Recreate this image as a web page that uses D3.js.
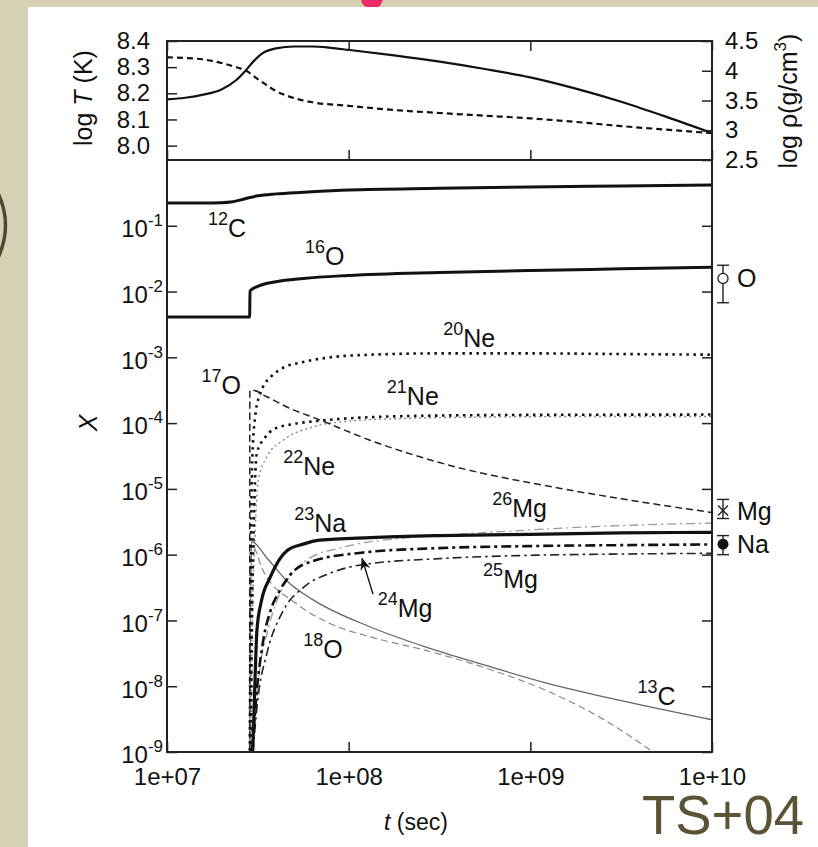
<!DOCTYPE html>
<html>
<head>
<meta charset="utf-8">
<script src="https://cdn.jsdelivr.net/npm/d3@7"></script>
<style>
  body { margin: 0; background: #d5d1b4; }
  svg { display: block; }
  text { font-family: "Liberation Sans", Arial, Helvetica, sans-serif; fill: #111; }
</style>
</head>
<body>
<svg id="chart" width="818" height="847"></svg>
<script>
// ---- data (log10 t, value) ----
const tempCurve = [[7.0,8.177],[7.1,8.183],[7.2,8.195],[7.3,8.215],[7.38,8.25],[7.43,8.285],[7.48,8.325],[7.53,8.355],[7.6,8.372],[7.7,8.379],[7.8,8.379],[7.9,8.374],[8.0,8.366],[8.25,8.345],[8.5,8.321],[8.75,8.293],[9.0,8.261],[9.25,8.218],[9.5,8.168],[9.75,8.11],[10.0,8.048]]
const densCurve = [[7.0,4.225],[7.1,4.215],[7.2,4.19],[7.3,4.13],[7.38,4.06],[7.43,4.01],[7.5,3.86],[7.6,3.66],[7.7,3.54],[7.8,3.47],[8.0,3.41],[8.25,3.34],[8.5,3.29],[8.75,3.245],[9.0,3.2],[9.25,3.14],[9.5,3.07],[9.75,3.01],[10.0,2.95]]

// abundances: [log10 t, log10 X]
const c12 = [[7.0,-0.655],[7.2,-0.655],[7.3,-0.65],[7.35,-0.64],[7.4,-0.61],[7.45,-0.575],[7.5,-0.545],[7.6,-0.515],[7.75,-0.49],[8.0,-0.455],[8.5,-0.43],[9.0,-0.41],[9.5,-0.395],[10.0,-0.38]]
const o16 = [[7.0,-2.385],[7.455,-2.385],[7.457,-1.99],[7.5,-1.92],[7.6,-1.85],[7.75,-1.8],[8.0,-1.755],[8.5,-1.71],[9.0,-1.68],[9.5,-1.655],[10.0,-1.63]]
const ne20 = [[7.455,-9.3],[7.462,-6],[7.47,-4.5],[7.49,-3.8],[7.51,-3.58],[7.528,-3.45],[7.57,-3.3],[7.62,-3.19],[7.75,-3.07],[7.9,-3.0],[8.12,-2.96],[8.5,-2.94],[9.0,-2.94],[9.5,-2.95],[10.0,-2.96]]
const o17 = [[7.455,-9.3],[7.456,-3.5],[7.47,-3.5],[7.55,-3.6],[7.66,-3.755],[7.84,-3.95],[8.117,-4.26],[8.5,-4.6],[9.16,-4.99],[9.5,-5.15],[10.0,-5.36]]
const ne21 = [[7.46,-9.3],[7.468,-7],[7.478,-5.5],[7.495,-4.45],[7.54,-4.22],[7.583,-4.1],[7.68,-4.02],[7.787,-3.98],[8.117,-3.91],[8.5,-3.885],[9.0,-3.875],[10.0,-3.87]]
const ne22 = [[7.462,-9.3],[7.47,-7],[7.485,-5.7],[7.5,-4.91],[7.55,-4.51],[7.64,-4.26],[7.8,-4.06],[8.0,-3.97],[8.3,-3.93],[8.7,-3.91],[9.3,-3.9],[10.0,-3.9]]
const na23 = [[7.468,-9.3],[7.48,-8.3],[7.495,-7.15],[7.52,-6.7],[7.567,-6.35],[7.66,-5.94],[7.75,-5.84],[7.84,-5.78],[8.12,-5.74],[8.5,-5.71],[9.0,-5.69],[9.5,-5.67],[10.0,-5.66]]
const mg24 = [[7.462,-9.3],[7.49,-8.2],[7.53,-7.3],[7.57,-6.85],[7.62,-6.55],[7.68,-6.3],[7.8,-6.1],[8.07,-5.97],[8.5,-5.9],[9.0,-5.87],[9.5,-5.855],[10.0,-5.845]]
const mg25 = [[7.465,-9.3],[7.5,-8.2],[7.55,-7.5],[7.64,-6.85],[7.75,-6.5],[7.9,-6.28],[8.08,-6.15],[8.5,-6.06],[9.0,-6.01],[9.5,-5.99],[10.0,-5.98]]
const mg26 = [[7.465,-9.3],[7.5,-8.0],[7.56,-7.1],[7.62,-6.6],[7.7,-6.25],[7.8,-6.03],[7.95,-5.9],[8.06,-5.83],[8.3,-5.75],[8.6,-5.69],[8.9,-5.64],[9.3,-5.58],[9.7,-5.54],[10.0,-5.52]]
const o18 = [[7.455,-9.3],[7.465,-5.85],[7.53,-6.25],[7.71,-6.74],[7.9,-7.05],[8.12,-7.25],[8.43,-7.46],[8.75,-7.72],[9.1,-8.08],[9.4,-8.5],[9.675,-9.0],[9.8,-9.25]]
const c13 = [[7.455,-9.3],[7.465,-5.8],[7.55,-6.05],[7.66,-6.4],[7.8,-6.68],[8.12,-7.1],[8.43,-7.41],[8.75,-7.68],[9.1,-7.96],[9.5,-8.22],[10.0,-8.51]]

// isotope labels: [mass, symbol, log t, log X] (baseline-left)
const isoLabels = [['12','C',7.226,-1.17],['16','O',7.76,-1.6],['20','Ne',8.52,-2.84],['17','O',7.19,-3.56],['21','Ne',8.21,-3.72],['22','Ne',7.64,-4.79],['23','Na',7.70,-5.66],['26','Mg',8.79,-5.43],['25','Mg',8.74,-6.51],['24','Mg',8.16,-6.95],['18','O',7.75,-7.57],['13','C',9.59,-8.29]]
const mg24Arrow = [[8.134,-6.6],[8.074,-6.06]]

// observed values at the right edge (log X)
const obsNames = ['O','Mg','Na']
const obsValue = [-1.80,-5.33,-5.84]
const obsLow = [-2.17,-5.45,-6.0]
const obsHigh = [-1.60,-5.16,-5.71]

// ticks
const xTicks = [1e7, 1e8, 1e9, 1e10]
const xTickLabels = ['1e+07', '1e+08', '1e+09', '1e+10']
const tempTicks = [8.0, 8.1, 8.2, 8.3, 8.4]
const densTicks = [2.5, 3, 3.5, 4, 4.5]
const abundExps = [-9, -8, -7, -6, -5, -4, -3, -2, -1]

// ---- layout ----
const svg = d3.select('#chart')
const L = 167, R = 712, top0 = 41, mid = 160, bot = 752

// page background
svg.append('rect').attr('width', 818).attr('height', 847).attr('fill', '#d5d1b4')
svg.append('path').attr('d', 'M361,0 C362,8 372,10 380,6 L383,0 Z').attr('fill', '#ee2c68')
svg.append('rect').attr('x', 28).attr('y', 7).attr('width', 790).attr('height', 840).attr('fill', '#fff')
svg.append('path').attr('d', 'M-2,193 Q13,225 -2,258').attr('fill', 'none').attr('stroke', '#4b4833').attr('stroke-width', 3.5)

const x = d3.scaleLog().domain([1e7, 1e10]).range([L, R])
const yT = d3.scaleLinear().domain([7.945, 8.4]).range([mid, top0])
const yRho = d3.scaleLinear().domain([2.5, 4.5]).range([mid, top0])
const yX = d3.scaleLog().domain([1e-9, 1]).range([bot, mid])

svg.append('defs').append('clipPath').attr('id', 'clipLow')
  .append('rect').attr('x', L).attr('y', mid).attr('width', R - L).attr('height', bot - mid)
svg.select('defs').append('marker').attr('id', 'arrowHead')
  .attr('viewBox', '0 0 10 10').attr('refX', 9).attr('refY', 5)
  .attr('markerWidth', 9).attr('markerHeight', 9).attr('orient', 'auto')
  .append('path').attr('d', 'M0,1 L10,5 L0,9 L3,5 Z').attr('fill', '#111')

const styleAxis = g => {
  g.attr('font-family', null).attr('font-size', null)
  g.select('.domain').remove()
  g.selectAll('.tick line').attr('stroke', '#222').attr('stroke-width', 1.5)
  g.selectAll('.tick text').style('font-size', '24px').attr('fill', '#111')
}

// ---- upper panel ----
const lineT = d3.line().x(d => x(10 ** d[0])).y(d => yT(d[1])).curve(d3.curveMonotoneX)
const lineRho = d3.line().x(d => x(10 ** d[0])).y(d => yRho(d[1])).curve(d3.curveMonotoneX)

svg.append('path').datum(tempCurve).attr('d', lineT)
  .attr('fill', 'none').attr('stroke', '#111').attr('stroke-width', 2.2)
svg.append('path').datum(densCurve).attr('d', lineRho)
  .attr('fill', 'none').attr('stroke', '#111').attr('stroke-width', 2.2).attr('stroke-dasharray', '6,4')

svg.append('g').attr('transform', `translate(${L},0)`)
  .call(d3.axisLeft(yT).tickValues(tempTicks).tickSizeInner(-10).tickSizeOuter(0).tickPadding(17).tickFormat(d3.format('.1f')))
  .call(styleAxis)
svg.append('g').attr('transform', `translate(${R},0)`)
  .call(d3.axisRight(yRho).tickValues(densTicks).tickSizeInner(-10).tickSizeOuter(0).tickPadding(13).tickFormat(d => d))
  .call(styleAxis)
svg.append('g').attr('transform', `translate(0,${top0})`)
  .call(d3.axisTop(x).tickValues(xTicks).tickSizeInner(-10).tickSizeOuter(0).tickFormat(''))
  .call(styleAxis)
svg.append('g').attr('transform', `translate(0,${mid})`)
  .call(d3.axisBottom(x).tickValues(xTicks).tickSizeInner(-10).tickSizeOuter(0).tickFormat(''))
  .call(styleAxis)

// ---- lower panel ----
const lineX = d3.line().x(d => x(10 ** d[0])).y(d => yX(10 ** d[1])).curve(d3.curveMonotoneX)

const series = [
  { data: c13, stroke: '#666', width: 1.3, dash: null },
  { data: o18, stroke: '#888', width: 1.2, dash: '7,4' },
  { data: ne22, stroke: '#888', width: 1.4, dash: '2,3' },
  { data: mg26, stroke: '#9a9a9a', width: 1.3, dash: '9,4,2,4' },
  { data: mg25, stroke: '#222', width: 1.6, dash: '9,4,2.5,4' },
  { data: mg24, stroke: '#111', width: 2.6, dash: '10,4,3,4' },
  { data: o17, stroke: '#222', width: 1.5, dash: '7,4' },
  { data: ne21, stroke: '#111', width: 2.6, dash: '2.5,4.5' },
  { data: ne20, stroke: '#111', width: 2.6, dash: '2.5,4.5' },
  { data: na23, stroke: '#111', width: 3.2, dash: null },
  { data: o16, stroke: '#111', width: 3, dash: null },
  { data: c12, stroke: '#111', width: 3, dash: null }
]

const gLow = svg.append('g').attr('clip-path', 'url(#clipLow)')
gLow.selectAll('path.iso').data(series).enter().append('path')
  .attr('class', 'iso')
  .attr('d', d => lineX(d.data))
  .attr('fill', 'none')
  .attr('stroke', d => d.stroke)
  .attr('stroke-width', d => d.width)
  .attr('stroke-dasharray', d => d.dash)

svg.append('line')
  .attr('x1', x(10 ** mg24Arrow[0][0])).attr('y1', yX(10 ** mg24Arrow[0][1]))
  .attr('x2', x(10 ** mg24Arrow[1][0])).attr('y2', yX(10 ** mg24Arrow[1][1]))
  .attr('stroke', '#111').attr('stroke-width', 1.4).attr('marker-end', 'url(#arrowHead)')

const labels = svg.append('g').selectAll('text').data(isoLabels).enter().append('text')
  .attr('x', d => x(10 ** d[2])).attr('y', d => yX(10 ** d[3]))
labels.append('tspan').style('font-size', '18px').attr('dy', -12).text(d => d[0])
labels.append('tspan').style('font-size', '25px').attr('dy', 12).text(d => d[1])

svg.append('g').attr('transform', `translate(${L},0)`)
  .call(d3.axisLeft(yX).tickValues(abundExps.map(e => 10 ** e)).tickSizeInner(-10).tickSizeOuter(0).tickPadding(4).tickFormat(''))
  .call(styleAxis)
  .call(g => g.selectAll('.tick text').attr('dy', '0.45em').each(function (d) {
    const t = d3.select(this)
    t.append('tspan').text('10')
    t.append('tspan').attr('dy', -11).style('font-size', '17px').text(Math.round(Math.log10(d)))
  }))
svg.append('g').attr('transform', `translate(${R},0)`)
  .call(d3.axisRight(yX).tickValues(abundExps.map(e => 10 ** e)).tickSizeInner(-10).tickSizeOuter(0).tickFormat(''))
  .call(styleAxis)
svg.append('g').attr('transform', `translate(0,${bot})`)
  .call(d3.axisBottom(x).tickValues(xTicks).tickSizeInner(-10).tickSizeOuter(0).tickPadding(16).tickFormat((d, i) => xTickLabels[i]))
  .call(styleAxis)

// frames
svg.append('rect').attr('x', L).attr('y', top0).attr('width', R - L).attr('height', bot - top0)
  .attr('fill', 'none').attr('stroke', '#222').attr('stroke-width', 2)
svg.append('line').attr('x1', L).attr('x2', R).attr('y1', mid).attr('y2', mid)
  .attr('stroke', '#222').attr('stroke-width', 2)

// observations with error bars
const obsX = R + 11
const obs = svg.append('g')
obsNames.forEach((name, i) => {
  const yv = yX(10 ** obsValue[i]), yl = yX(10 ** obsLow[i]), yh = yX(10 ** obsHigh[i])
  obs.append('line').attr('x1', obsX).attr('x2', obsX).attr('y1', yh).attr('y2', yl).attr('stroke', '#222').attr('stroke-width', 1.4)
  obs.append('line').attr('x1', obsX - 6).attr('x2', obsX + 6).attr('y1', yh).attr('y2', yh).attr('stroke', '#222').attr('stroke-width', 1.4)
  obs.append('line').attr('x1', obsX - 6).attr('x2', obsX + 6).attr('y1', yl).attr('y2', yl).attr('stroke', '#222').attr('stroke-width', 1.4)
  if (name === 'O') {
    obs.append('circle').attr('cx', obsX).attr('cy', yv).attr('r', 5).attr('fill', '#fff').attr('stroke', '#222').attr('stroke-width', 1.3)
  } else if (name === 'Na') {
    obs.append('circle').attr('cx', obsX).attr('cy', yv).attr('r', 5.5).attr('fill', '#111')
  } else {
    obs.append('path').attr('d', `M${obsX - 5},${yv - 5}L${obsX + 5},${yv + 5}M${obsX - 5},${yv + 5}L${obsX + 5},${yv - 5}`)
      .attr('stroke', '#222').attr('stroke-width', 1.4)
  }
  obs.append('text').attr('x', obsX + 14).attr('y', yv + 9).style('font-size', '25px').text(name)
})

// axis titles
const tTitle = svg.append('text').attr('transform', 'translate(92,98) rotate(-90)')
  .attr('text-anchor', 'middle').style('font-size', '25px')
tTitle.append('tspan').text('log ')
tTitle.append('tspan').style('font-style', 'italic').text('T')
tTitle.append('tspan').text(' (K)')

const rTitle = svg.append('text').attr('transform', 'translate(797,101) rotate(-90)')
  .attr('text-anchor', 'middle').style('font-size', '25px')
rTitle.append('tspan').text('log \u03c1(g/cm')
rTitle.append('tspan').attr('dy', -11).style('font-size', '17px').text('3')
rTitle.append('tspan').attr('dy', 11).text(')')

svg.append('text').attr('transform', 'translate(97,423) rotate(-90)')
  .attr('text-anchor', 'middle').style('font-size', '25px').style('font-style', 'italic').text('X')

const xTitle = svg.append('text').attr('x', 416).attr('y', 830).attr('text-anchor', 'middle').style('font-size', '23px')
xTitle.append('tspan').style('font-style', 'italic').text('t')
xTitle.append('tspan').text(' (sec)')

svg.append('text').attr('x', 642).attr('y', 834).attr('textLength', 162).attr('lengthAdjust', 'spacingAndGlyphs')
  .style('font-size', '56px').style('fill', '#5a5336').text('TS+04')
</script>
</body>
</html>
